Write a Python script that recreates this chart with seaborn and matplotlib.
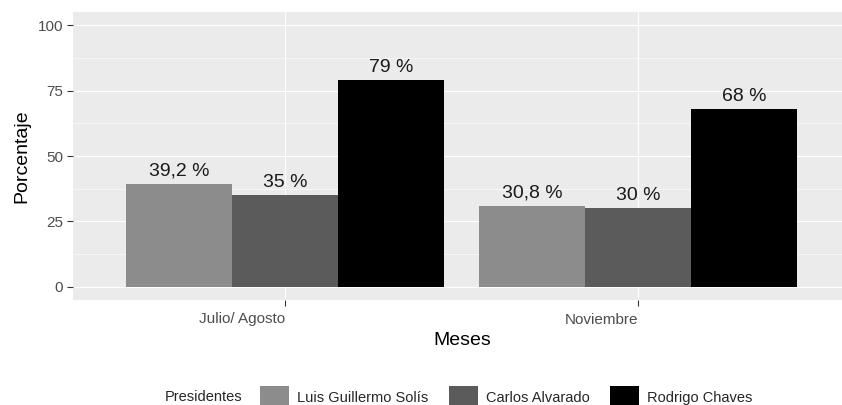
"""encuesta de aprobacion de presidentes, grafico de barras agrupadas"""

import pandas as pd
import matplotlib.pyplot as plt
import seaborn as sns
from matplotlib.patches import Patch
from matplotlib.ticker import MultipleLocator

meses = ["Julio/ Agosto", "Noviembre"]
presidentes = ["Luis Guillermo Solís", "Carlos Alvarado", "Rodrigo Chaves"]
julio_agosto = [39.2, 35, 79]
noviembre = [30.8, 30, 68]
colores = ["#8c8c8c", "#5b5b5b", "#000000"]

rows = []
for mes, valores in zip(meses, [julio_agosto, noviembre]):
    for pres, v in zip(presidentes, valores):
        rows.append({"Meses": mes, "Presidentes": pres, "Porcentaje": v})
df = pd.DataFrame(rows)

sns.set_theme(style="darkgrid")
plt.rcParams["font.family"] = ["Liberation Sans", "DejaVu Sans"]

fig = plt.figure(figsize=(8.42, 4.05), dpi=100)
ax = fig.add_axes([73 / 842, 105 / 405, 769 / 842, 288 / 405])
ax.set_facecolor("#ebebeb")

sns.barplot(
    data=df, x="Meses", y="Porcentaje", hue="Presidentes", order=meses,
    hue_order=presidentes, palette=colores, width=0.9, gap=0, saturation=1,
    linewidth=0, legend=False, errorbar=None, ax=ax,
)

for cont in ax.containers:
    for bar in cont:
        h = bar.get_height()
        txt = f"{h:g}".replace(".", ",") + " %"
        ax.annotate(txt, (bar.get_x() + bar.get_width() / 2, h),
                    xytext=(0, 6), textcoords="offset points",
                    ha="center", va="baseline", fontsize=14, color="#1a1a1a")

ax.set_ylim(-5, 105)
ax.set_xlim(-0.6, 1.578)
ax.set_yticks([0, 25, 50, 75, 100])
ax.yaxis.set_minor_locator(MultipleLocator(12.5))
ax.grid(which="major", color="white", linewidth=0.85)
ax.grid(which="minor", axis="y", color="white", linewidth=0.4)
ax.set_axisbelow(True)
for s in ax.spines.values():
    s.set_visible(False)

ax.tick_params(axis="both", which="major", length=4, width=0.8, color="#333333",
               labelcolor="#4d4d4d", labelsize=11, bottom=True, left=True)
ax.tick_params(axis="x", pad=5)
ax.tick_params(axis="y", pad=3)
ax.tick_params(which="minor", length=0)
for lbl in ax.get_xticklabels():
    lbl.set_horizontalalignment("right")

ax.set_xlabel("Meses", fontsize=14, color="black")
ax.set_ylabel("Porcentaje", fontsize=14, color="black")
ax.xaxis.set_label_coords((462 - 73) / 769, -0.11)
ax.yaxis.set_label_coords(-0.056, 0.5)

handles = [Patch(facecolor=c, edgecolor="none") for c in colores]
fig.legend(handles, presidentes, ncol=3, loc="center left",
           bbox_to_anchor=(260 / 842, 8 / 405), frameon=False, fontsize=10.5,
           handlelength=2.0, handleheight=2.0, handletextpad=0.55,
           columnspacing=1.4, borderpad=0, borderaxespad=0)
fig.text(165 / 842, 8 / 405, "Presidentes", fontsize=10.5, va="center", ha="left")

plt.savefig("out.png", dpi=100)
plt.close()
